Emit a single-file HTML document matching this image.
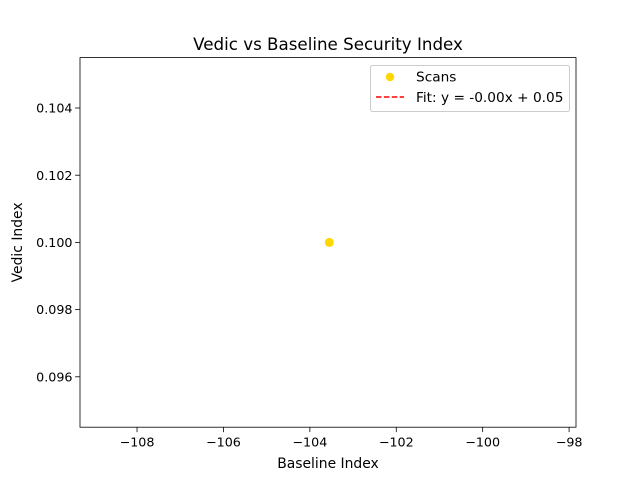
<!DOCTYPE html>
<html><head><meta charset="utf-8"><style>
body{margin:0;background:#fff}
svg text{font-family:"DejaVu Sans","Liberation Sans",sans-serif;fill:#000}
</style></head><body>
<svg width="640" height="480" viewBox="0 0 640 480" id="chart">
<rect x="0" y="0" width="640" height="480" fill="#fff"/>
<text x="328" y="50" font-size="16.7" text-anchor="middle">Vedic vs Baseline Security Index</text>
<g id="axes"></g>
<text x="328" y="468" font-size="13.9" text-anchor="middle">Baseline Index</text>
<text transform="translate(22,242.4) rotate(-90)" font-size="13.9" text-anchor="middle">Vedic Index</text>
<g>
<rect x="370.5" y="65.5" width="199" height="46" rx="2" fill="#fff" fill-opacity="0.8" stroke="#ccc"/>
<circle cx="390" cy="77" r="4.2" fill="#ffd700"/>
<text x="416" y="81.5" font-size="13.7">Scans</text>
<line x1="376" y1="97" x2="404" y2="97" stroke="red" stroke-width="1.5" stroke-dasharray="5.5,2.4"/>
<text x="416" y="102" font-size="13.7">Fit: y = -0.00x + 0.05</text>
</g>
</svg>
<script>
const xValues=[-103.55];
const yValues=[0.100];
const xTicks=[-108,-106,-104,-102,-100,-98];
const yTicks=[0.096,0.098,0.100,0.102,0.104];
const X0=80,X1=576,Y0=427.2,Y1=57.6;
const xMin=-109.32,xMax=-97.84,yMin=0.0945,yMax=0.1055;
const sx=v=>X0+(v-xMin)/(xMax-xMin)*(X1-X0);
const sy=v=>Y0-(v-yMin)/(yMax-yMin)*(Y0-Y1);
const NS="http://www.w3.org/2000/svg";
const g=document.getElementById('axes');
function mk(t,a){const e=document.createElementNS(NS,t);for(const k in a)e.setAttribute(k,a[k]);g.appendChild(e);return e;}
xTicks.forEach(t=>{const x=sx(t);
const l=mk('line',{x1:x,x2:x,y1:Y0,y2:Y0+4.9,stroke:'#000','stroke-width':0.8});


const tx=mk('text',{x:x,y:Y0+19.5,'font-size':12.7,'text-anchor':'middle'});tx.textContent=String(t).replace('-','\u2212');

});
yTicks.forEach(t=>{const y=sy(t);
const l=mk('line',{x1:X0-4.9,x2:X0,y1:y,y2:y,stroke:'#000','stroke-width':0.8});


const tx=mk('text',{x:X0-7.5,y:y+4.6,'font-size':12.7,'text-anchor':'end'});tx.textContent=t.toFixed(3);

});
xValues.forEach((v,i)=>{const c=mk('circle',{cx:sx(v),cy:sy(yValues[i]),r:4.5,fill:'#ffd700'});

});
const f=mk('rect',{x:X0,y:Y1,width:X1-X0,height:Y0-Y1,fill:'none',stroke:'#000','stroke-width':0.8});


</script>
</body></html>
